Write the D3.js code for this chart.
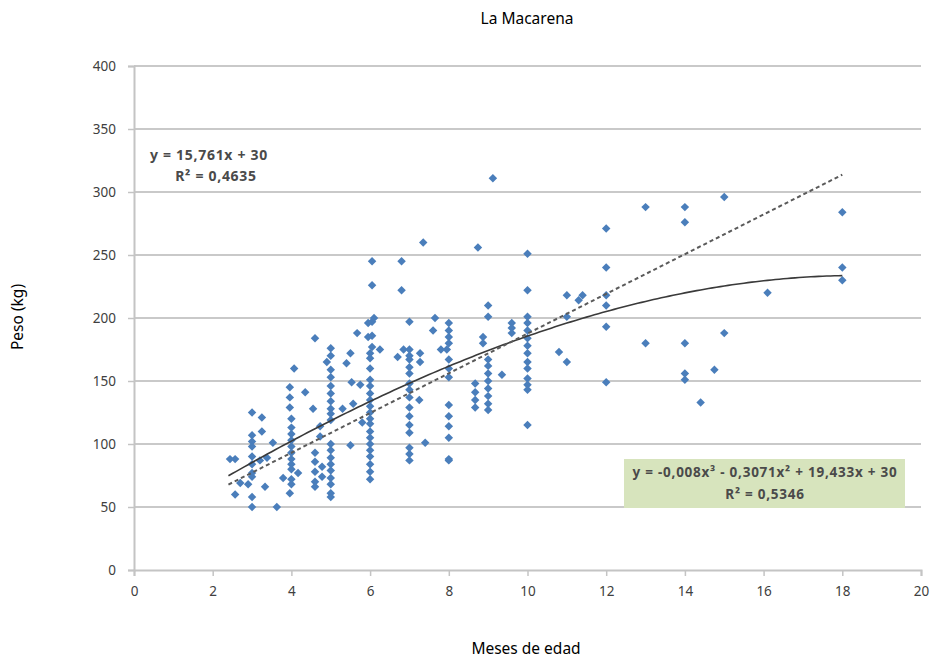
<!DOCTYPE html>
<html><head><meta charset="utf-8">
<script src="https://cdn.jsdelivr.net/npm/d3@7"></script>
<style>
body{margin:0;background:#fff;}
text{font-family:"Noto Sans","Open Sans",sans-serif;}
</style></head>
<body><svg id="chart" width="933" height="660"></svg>
<script>
const title = "La Macarena";
const xLabel = "Meses de edad";
const yLabel = "Peso (kg)";
const xTicks = [0,2,4,6,8,10,12,14,16,18,20];
const yTicks = [0,50,100,150,200,250,300,350,400];

const ageMonths = [
 2.44, 2.57,2.57, 2.7, 2.9,
 3,3,3,3,3,3,3,3,3,3,
 3.2, 3.25,3.25, 3.33, 3.38, 3.53, 3.63, 3.79,
 3.96,3.96,3.96,3.96,
 4.07,4,4,4,4,4,4,4,4,4,4,4,
 4.17, 4.35, 4.55,
 4.6,4.6,4.6,4.6,4.6,4.6,
 4.73,4.73, 4.78,4.78, 4.9,
 5,5,5,5,5,5,5,5,5,5,5,5,5,5,5,5,5,5,5,
 5.3, 5.4, 5.5,5.5, 5.53, 5.57, 5.67, 5.75, 5.8, 5.95,5.95,
 6,6,6,6,6,6,6,6,6,6,6,6,6,6,6,6,6,6,6,
 6.05,6.05,6.05,6.05,6.05, 6.1, 6.25, 6.7, 6.8,6.8, 6.85,
 7,7,7,7,7,7,7,7,7,7,7,7,7,7,7,7,
 7.25, 7.27,7.27, 7.35, 7.4, 7.6, 7.65, 7.8, 7.95,
 8,8,8,8,8,8,8,8,8,8,8,8,8,
 8.67,8.67,8.67,8.67, 8.74, 8.87,8.87,
 9,9,9,9,9,9,9,9,9,9,
 9.12, 9.35, 9.6,9.6,9.6,
 10,10,10,10,10,10,10,10,10,10,10,10,10,10,
 10.8, 11,11,11, 11.3, 11.4,
 12,12,12,12,12,12,
 13,13, 14,14,14,14,14, 14.4, 14.75, 15,15, 16.1, 18,18,18
];
const weightKg = [
 88, 88,60, 69, 68,
 125,107,102,98,90,84,77,74,58,50,
 87, 121,110, 66, 89, 101, 50, 73,
 145,137,129,61,
 160,120,113,108,103,98,93,88,84,80,72,68,
 77, 141, 128,
 184,93,86,78,70,66,
 114,106, 82,74, 165,
 176,170,159,153,146,140,134,128,124,119,100,95,89,84,79,73,68,61,58,
 128, 164, 172,99, 149, 132, 188, 147, 117, 196,185,
 172,168,160,151,146,140,135,130,125,120,116,110,105,100,95,90,84,78,72,
 245,226,197,186,177, 200, 175, 169, 245,222, 175,
 197,175,170,167,161,156,148,143,137,129,122,115,109,97,92,87,
 135, 172,165, 260, 101, 190, 200, 175, 175,
 196,190,185,180,167,160,153,131,122,114,105,88,87,
 148,141,135,129, 256, 185,180,
 210,201,167,162,156,150,144,138,132,127,
 311, 155, 196,192,188,
 251,222,201,196,190,184,178,172,165,160,152,147,143,115,
 173, 218,201,165, 214, 218,
 271,240,218,210,193,149,
 288,180, 288,276,180,156,151, 133, 159, 296,188, 220, 284,240,230
];

// trend lines as labelled on the chart
const linearCoef = [30, 15.761];                 // a + b*x
const cubicCoef = [30, 19.433, -0.3071, -0.008]; // a + b x + c x^2 + d x^3
const trendRange = [2.4, 18];
const linearLabel = ["y = 15,761x + 30", "R² = 0,4635"];
const cubicLabel = ["y = -0,008x³ - 0,3071x² + 19,433x + 30", "R² = 0,5346"];

const svg = d3.select("#chart");
const L = 134, R = 921, T = 66, B = 570;
const x = d3.scaleLinear().domain([0,20]).range([L,R]);
const y = d3.scaleLinear().domain([0,400]).range([B,T]);

// gridlines
svg.append("g").selectAll("line").data(yTicks.filter(d=>d>0)).join("line")
 .attr("x1",L).attr("x2",R).attr("y1",d=>y(d)).attr("y2",d=>y(d))
 .attr("stroke","#c9c9c9").attr("stroke-width",2);

// axes
const xAxis = svg.append("g").attr("transform",`translate(0,${B})`)
 .call(d3.axisBottom(x).tickValues(xTicks).tickSize(6).tickPadding(10));
const yAxis = svg.append("g").attr("transform",`translate(${L},0)`)
 .call(d3.axisLeft(y).tickValues(yTicks).tickSize(6).tickPadding(10));
[xAxis,yAxis].forEach(g=>{
 g.select(".domain").attr("stroke","#c4c4c4").attr("stroke-width",2);
 g.selectAll(".tick line").attr("stroke","#c4c4c4").attr("stroke-width",1.5);
 g.selectAll(".tick text").attr("fill","#404040").style("font-size","13.5px")
  .style("font-family","'Noto Sans', sans-serif");
});
yAxis.selectAll(".tick text").attr("dx","-2");

// points (rotated squares = Excel diamonds)
const pts = ageMonths.map((m,i)=>({m, w: weightKg[i]}));
svg.append("g").selectAll("path").data(pts).join("path")
 .attr("d", d3.symbol(d3.symbolSquare, 36))
 .attr("transform", d=>`translate(${x(d.m)},${y(d.w)}) rotate(45)`)
 .attr("fill","#4a7ebb");

// trend lines
const xs = d3.range(trendRange[0], trendRange[1]+0.001, 0.1);
const cubic = v => cubicCoef[0] + cubicCoef[1]*v + cubicCoef[2]*v*v + cubicCoef[3]*v*v*v;
const lin = v => linearCoef[0] + linearCoef[1]*v;
const line = d3.line().x(d=>x(d[0])).y(d=>y(d[1]));
svg.append("path").attr("d", line(xs.map(v=>[v,cubic(v)])))
 .attr("fill","none").attr("stroke","#3a3a3a").attr("stroke-width",1.6);
svg.append("path").attr("d", line([[trendRange[0],lin(trendRange[0])],[trendRange[1],lin(trendRange[1])]]))
 .attr("fill","none").attr("stroke","#5a5a5a").attr("stroke-width",2).attr("stroke-dasharray","4,3");

// labels
svg.append("text").attr("x",527).attr("y",24).attr("text-anchor","middle")
 .style("font-size","15.5px").attr("fill","#000").text(title);
svg.append("text").attr("x",526).attr("y",654).attr("text-anchor","middle")
 .style("font-size","15.5px").attr("fill","#000").text(xLabel);
svg.append("text").attr("transform","translate(23,317) rotate(-90)").attr("text-anchor","middle")
 .style("font-size","15.5px").attr("fill","#000").text(yLabel);

const eqStyle = t => t.style("font-size","14px").style("font-weight","bold")
 .style("letter-spacing","0.7px").attr("fill","#4a4a4a").attr("text-anchor","middle");
svg.append("text").attr("x",209).attr("y",160).call(eqStyle).text(linearLabel[0]);
svg.append("text").attr("x",216).attr("y",181).call(eqStyle).text(linearLabel[1]);

svg.append("rect").attr("x",624).attr("y",459).attr("width",281).attr("height",49).attr("fill","#d7e4bd");
svg.append("text").attr("x",765).attr("y",477).call(eqStyle).style("font-size","13.5px").style("letter-spacing","0.75px").text(cubicLabel[0]);
svg.append("text").attr("x",765).attr("y",499).call(eqStyle).style("font-size","13.5px").style("letter-spacing","0.75px").text(cubicLabel[1]);
</script></body></html>
